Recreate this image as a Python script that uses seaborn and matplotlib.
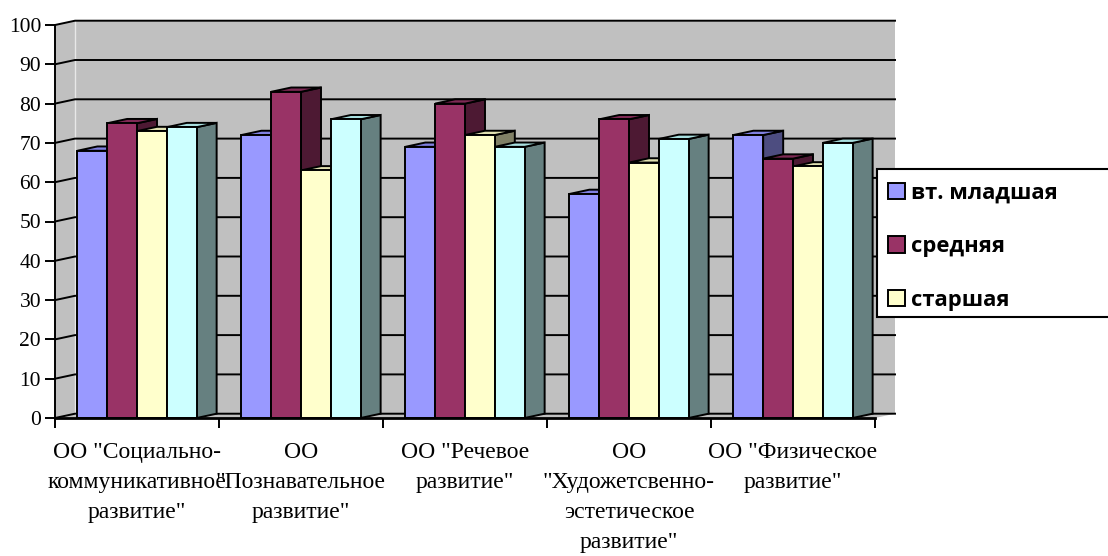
import matplotlib
matplotlib.use("Agg")
import matplotlib.pyplot as plt
from matplotlib.patches import Polygon, Rectangle, Patch
import seaborn as sns
import pandas as pd

categories = ['ОО "Социально-\nкоммуникативное\nразвитие"',
              'ОО\n"Познавательное\nразвитие"',
              'ОО "Речевое\nразвитие"',
              'ОО\n"Художетсвенно-\nэстетическое\nразвитие"',
              'ОО "Физическое\nразвитие"']
series = ['вт. младшая', 'средняя', 'старшая', 'подготовительная']
vals_junior2 = [68, 72, 69, 57, 72]
vals_middle = [75, 83, 80, 76, 66]
vals_senior = [73, 63, 72, 65, 64]
vals_prep = [74, 76, 69, 71, 70]
yticks = list(range(0, 101, 10))

front_colors = ['#9999FF', '#993366', '#FFFFCC', '#CCFFFF']
side_colors = ['#4D4D80', '#4D1933', '#808066', '#668080']
top_colors = ['#8080E0', '#7F2A55', '#E0E0B0', '#A8E0E0']

rows = []
for s, vals in zip(series, [vals_junior2, vals_middle, vals_senior, vals_prep]):
    for c, v in zip(categories, vals):
        rows.append({'cat': c, 'series': s, 'value': v})
df = pd.DataFrame(rows)

W, H = 1108, 556
fig = plt.figure(figsize=(W / 100, H / 100), dpi=100)
fig.patch.set_facecolor('white')

# axes placement in pixels
px_left, px_right, px_bottom, px_top = 55, 900, 418, 18
xscale = 164.0
yscale = (418 - 25) / 100.0
ax = fig.add_axes([px_left / W, (H - px_bottom) / H,
                   (px_right - px_left) / W, (px_bottom - px_top) / H])
ax.set_facecolor('none')

xmin = -0.5
xmax = xmin + (px_right - px_left) / xscale
ymax = (px_bottom - px_top) / yscale
dx = 20.0 / xscale
dy = 4.3 / yscale

lw = 1.4
sns.barplot(data=df, x='cat', y='value', hue='series', palette=front_colors,
            width=4 / 5.5, gap=0, saturation=1, edgecolor='black',
            linewidth=lw, legend=False, ax=ax, zorder=10)

ax.set_xlim(xmin, xmax)
ax.set_ylim(0, ymax)

ncat = len(categories)
xr = xmin + ncat
# walls
wall = '#C0C0C0'
ax.add_patch(Polygon([(xmin, 0), (xmin + dx, dy), (xmin + dx, 100 + dy), (xmin, 100)],
                     closed=True, facecolor=wall, edgecolor='none', zorder=1))
ax.add_patch(Rectangle((xmin + dx, dy), ncat, 100, facecolor=wall, edgecolor='none', zorder=1))
ax.add_patch(Polygon([(xmin, 0), (xr, 0), (xr + dx, dy), (xmin + dx, dy)],
                     closed=True, facecolor=wall, edgecolor='none', zorder=1))
ax.plot([xmin + dx, xmin + dx], [dy, 100 + dy], color='#E8E8E8', lw=1.0, zorder=2)
for v in yticks:
    ax.plot([xmin, xmin + dx, xr + dx], [v, v + dy, v + dy], color='black', lw=lw, zorder=2,
            solid_joinstyle='miter')

# 3D faces from bar patches
lower_front = [c.lower() for c in front_colors]
bars = [p for p in ax.patches if isinstance(p, Rectangle) and p.get_zorder() >= 10]
bars = sorted(bars, key=lambda p: p.get_x())
for k, p in enumerate(bars):
    x0 = p.get_x()
    x1 = x0 + p.get_width()
    h = p.get_height()
    fc = matplotlib.colors.to_hex(p.get_facecolor()).lower()
    idx = lower_front.index(fc)
    z = 10 + k * 0.01
    ax.add_patch(Polygon([(x1, 0), (x1 + dx, dy), (x1 + dx, h + dy), (x1, h)], closed=True,
                         facecolor=side_colors[idx], edgecolor='black', lw=lw, zorder=z,
                         joinstyle='miter'))
    ax.add_patch(Polygon([(x0, h), (x1, h), (x1 + dx, h + dy), (x0 + dx, h + dy)], closed=True,
                         facecolor=top_colors[idx], edgecolor='black', lw=lw, zorder=z + 0.002,
                         joinstyle='miter'))
    p.set_zorder(z + 0.005)
    p.set_joinstyle('miter')

# spines and ticks
for s in ['top', 'right']:
    ax.spines[s].set_visible(False)
ax.spines['left'].set_bounds(0, 100)
ax.spines['bottom'].set_bounds(xmin, xr)
ax.spines['left'].set_linewidth(lw)
ax.spines['bottom'].set_linewidth(2.0)
ax.spines['left'].set_zorder(20)
ax.spines['bottom'].set_zorder(20)

serif = ['Liberation Serif', 'DejaVu Serif']
ax.set_yticks(yticks)
ax.set_yticklabels([str(v) for v in yticks], fontsize=15.5, family=serif)
ax.tick_params(axis='y', length=7, width=lw, pad=3, color='black')
ax.set_xticks(range(ncat))
ax.set_xticklabels(categories, fontsize=17, family=serif, linespacing=1.57)
ax.set_xticks([xmin + i for i in range(ncat + 1)], minor=True)
ax.tick_params(axis='x', which='major', length=0, pad=17)
ax.tick_params(axis='x', which='minor', length=7, width=lw, color='black')
ax.set_xlabel('')
ax.set_ylabel('')

# legend
fig.add_artist(Rectangle((877 / W, 1 - 317 / H), (1130 - 877) / W, (317 - 169) / H,
                         transform=fig.transFigure, facecolor='white', edgecolor='black',
                         lw=1.5, clip_on=False, zorder=30))
handles = [Patch(facecolor=front_colors[i], edgecolor='black', lw=1.4) for i in range(3)]
leg = fig.legend(handles, series[:3], loc='upper left',
                 bbox_to_anchor=(881 / W, 1 - 176 / H), bbox_transform=fig.transFigure,
                 frameon=False, prop={'family': ['Open Sans', 'DejaVu Sans'], 'weight': 'bold', 'size': 15.8},
                 handlelength=0.78, handleheight=0.78, handletextpad=0.28, labelspacing=1.48,
                 borderpad=0.3, borderaxespad=0)
leg.set_zorder(31)

fig.savefig('out.png', dpi=100, facecolor='white')
